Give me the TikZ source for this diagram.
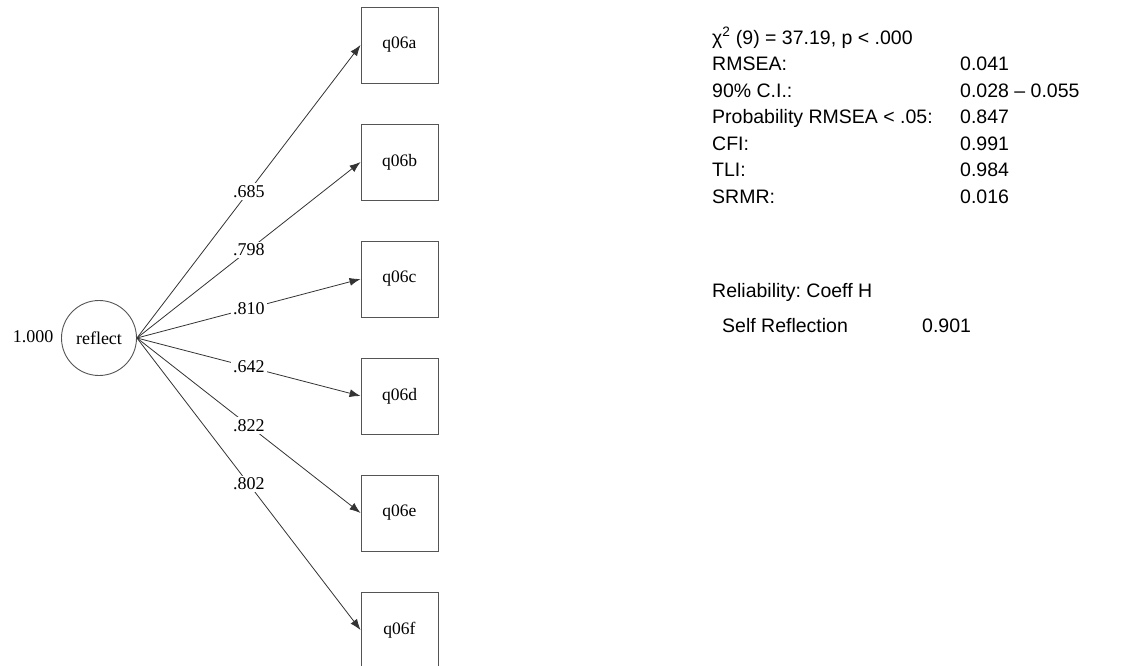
\documentclass[tikz,border=0pt]{standalone}
\usepackage{fontspec}
\setmainfont{Liberation Serif}
\newfontfamily\arialf{Liberation Sans}
\usetikzlibrary{arrows.meta}
\definecolor{edgecol}{HTML}{333333}
\definecolor{boxcol}{HTML}{555555}
\frenchspacing
\begin{document}
\begin{tikzpicture}[x=1pt,y=-1pt,
  obsbox/.style={draw=boxcol,line width=0.9pt,minimum width=77pt,minimum height=76pt,inner sep=0pt,font=\fontsize{17.5}{17.5}\selectfont},
  latentc/.style={circle,draw=boxcol,line width=0.9pt,minimum size=75pt,inner sep=0pt,font=\fontsize{18}{18}\selectfont},
  path/.style={draw=edgecol,line width=0.8pt,-{Latex[length=11pt,width=8pt]}},
  lbl/.style={fill=white,inner sep=2pt,font=\fontsize{18}{18}\selectfont},
  fit/.style={anchor=base west,inner sep=0pt,font=\arialf\fontsize{19.5}{19.5}\selectfont}]
\useasboundingbox (0,0) rectangle (1122,665);
\node[latentc] (r) at (99,338) {reflect};
\node[font=\fontsize{18}{18}\selectfont] (var) at (33,337) {1.000};
\node[obsbox] (a) at (399.5,45) {q06a};
\node[obsbox] (b) at (399.5,162) {q06b};
\node[obsbox] (c) at (399.5,279) {q06c};
\node[obsbox] (d) at (399.5,396) {q06d};
\node[obsbox] (e) at (399.5,513) {q06e};
\node[obsbox] (f) at (399.5,630) {q06f};
\draw[path] (r.east) -- node[lbl] (la) {.685} (a.west);
\draw[path] (r.east) -- node[lbl] (lb) {.798} (b.west);
\draw[path] (r.east) -- node[lbl] (lc) {.810} (c.west);
\draw[path] (r.east) -- node[lbl] (ld) {.642} (d.west);
\draw[path] (r.east) -- node[lbl] (le) {.822} (e.west);
\draw[path] (r.east) -- node[lbl] (lf) {.802} (f.west);
% fit statistics
\node[fit] (t0) at (712,44) {χ\textsuperscript{2} (9) = 37.19, p < .000};
\node[fit] (t1) at (712,70.5) {RMSEA:};
\node[fit] (v1) at (960,70.5) {0.041};
\node[fit] (t2) at (712,97) {90\% C.I.:};
\node[fit] (v2) at (960,97) {0.028 – 0.055};
\node[fit] (t3) at (712,123.5) {Probability RMSEA < .05:};
\node[fit] (v3) at (960,123.5) {0.847};
\node[fit] (t4) at (712,150) {CFI:};
\node[fit] (v4) at (960,150) {0.991};
\node[fit] (t5) at (712,176.5) {TLI:};
\node[fit] (v5) at (960,176.5) {0.984};
\node[fit] (t6) at (712,203) {SRMR:};
\node[fit] (v6) at (960,203) {0.016};
\node[fit] (t7) at (712,297) {Reliability: Coeff H};
\node[fit] (t8) at (722,332) {Self Reflection};
\node[fit] (v8) at (922,332) {0.901};
\end{tikzpicture}
\end{document}
